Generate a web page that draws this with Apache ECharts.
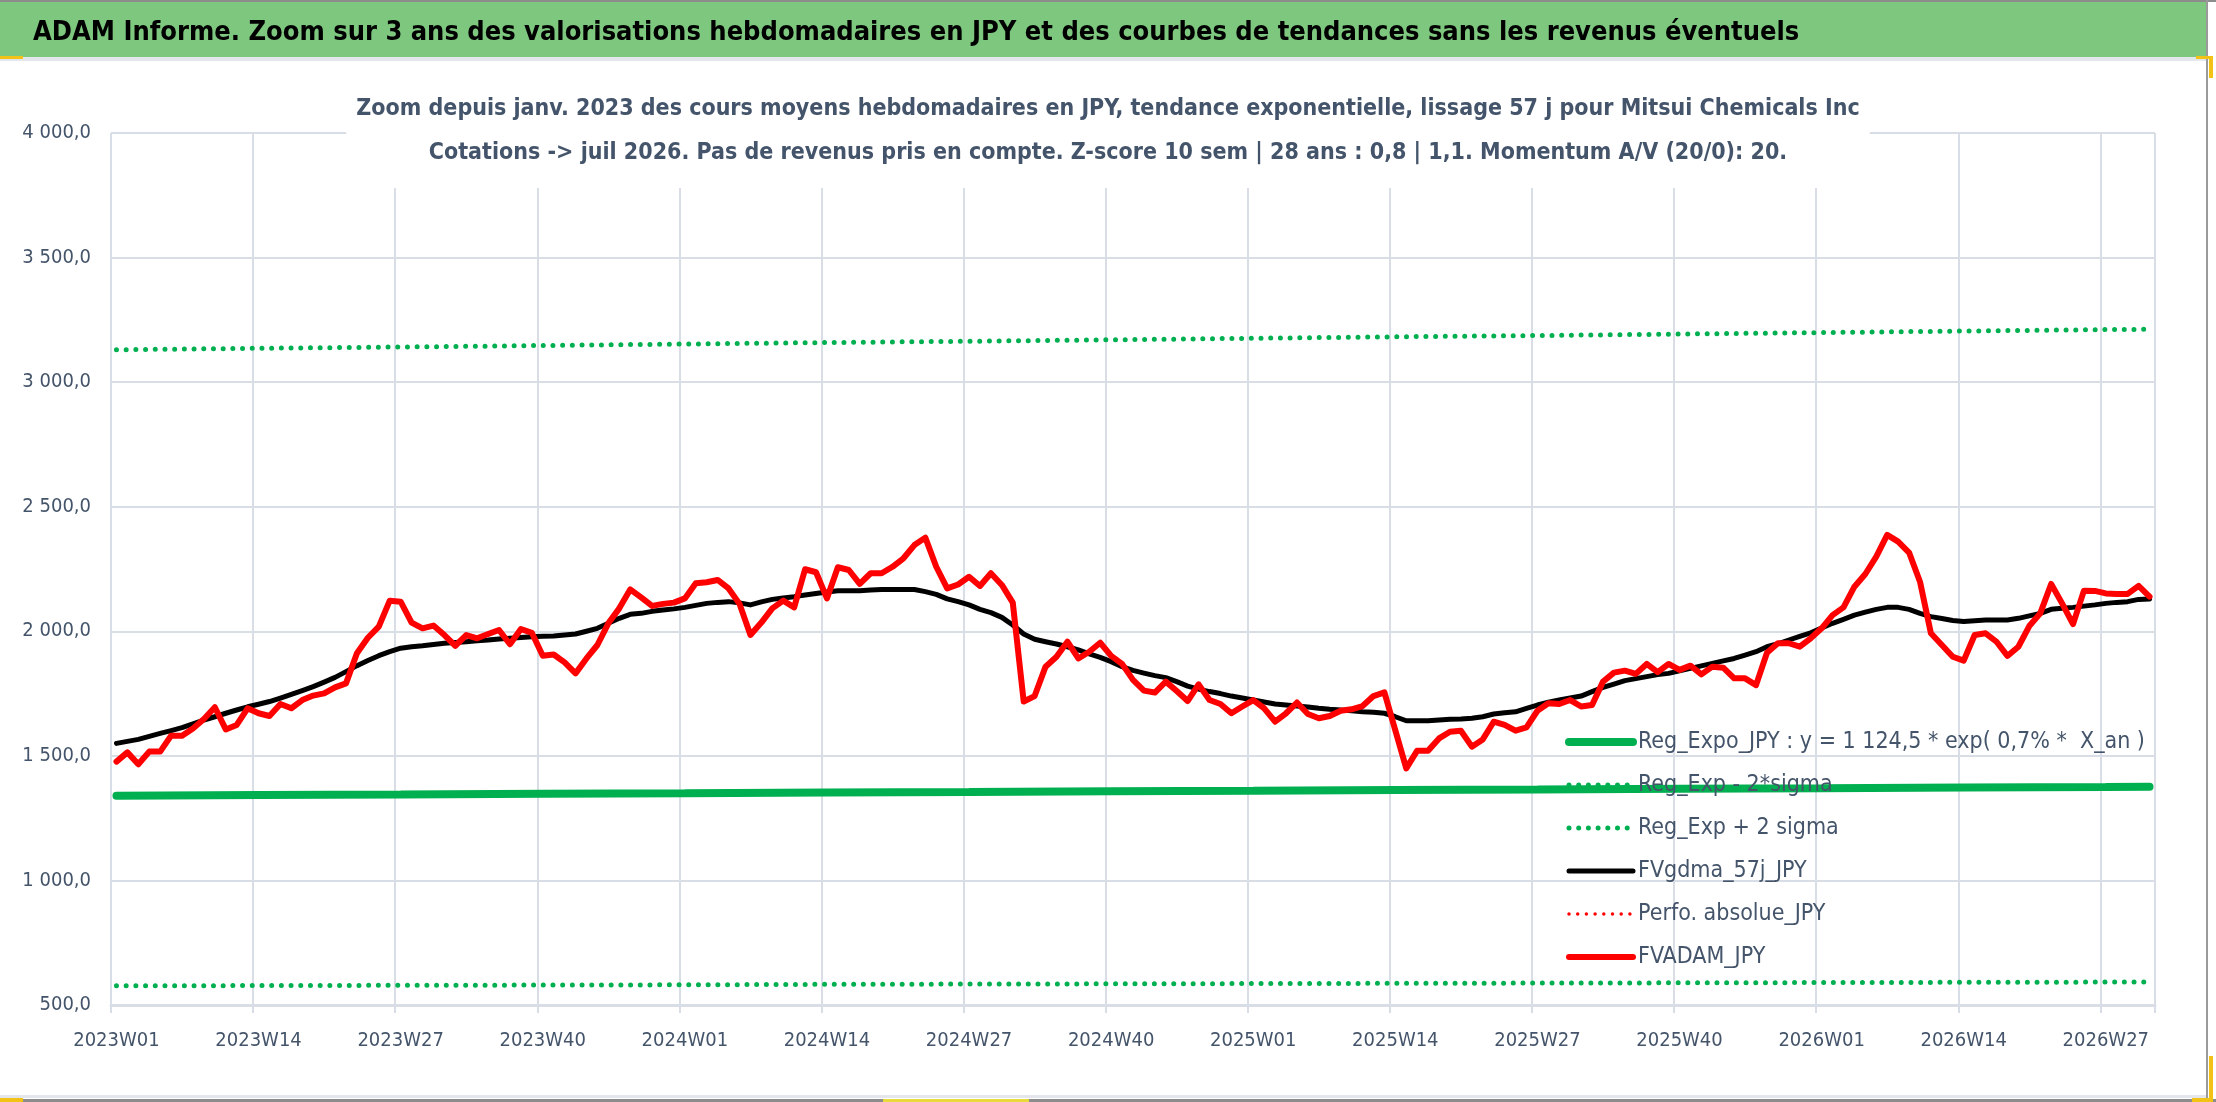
<!DOCTYPE html>
<html><head><meta charset="utf-8">
<script src="https://cdn.jsdelivr.net/npm/echarts@6/dist/echarts.min.js"></script>
<style>html,body{margin:0;padding:0;background:#fff}#c{width:2216px;height:1102px}</style>
</head><body><div id="c"></div>
<script>
// ---- data ----
const years = [2023, 2024, 2025, 2026];
const weeksPerYear = [52, 52, 52, 31];
const categories = [];
years.forEach((y, k) => { for (let w = 1; w <= weeksPerYear[k]; w++) categories.push(y + 'W' + (w < 10 ? '0' + w : w)); });

const fvadam = [
1477,1514,1466,1517,1517,1581,1581,1610,1648,1695,1606,1624,1691,1671,1660,1708,1691,1724,1742,1751,1775,1791,1912,1974,2019,2123,2119,2035,2012,2023,1985,1942,1985,1972,1989,2005,1948,2009,1994,1902,1907,1875,1831,1891,1945,2032,2092,2168,
2136,2102,2110,2115,2132,2193,2197,2206,2172,2110,1985,2035,2092,2123,2096,2249,2237,2132,2257,2246,2190,2233,2233,2259,2293,2346,2376,2259,2172,2188,2219,2182,2233,2186,2115,1718,1740,1858,1898,1958,1891,1918,1954,1901,1869,1805,1762,
1754,1798,1760,1720,1787,1724,1708,1671,1698,1724,1691,1637,1671,1714,1668,1651,1660,1681,1687,1700,1740,1755,1602,1450,1521,1521,1570,1597,1601,1537,1566,1637,1624,1601,1614,1681,1711,1708,1724,1698,1704,1798,1834,1842,1829,1869,1836,
1869,1845,1862,1827,1858,1854,1811,1811,1784,1914,1952,1952,1938,1972,2012,2065,2096,2179,2230,2300,2387,2360,2316,2199,1992,1945,1898,1882,1985,1992,1958,1901,1938,2021,2072,2190,2112,2029,2163,2162,2152,2150,2150,2182,2139
];
const fvgdma = [
1550,1558,1566,1578,1590,1601,1613,1628,1644,1657,1671,1684,1697,1707,1718,1732,1747,1762,1778,1796,1815,1838,1862,1883,1902,1918,1932,1938,1942,1947,1952,1955,1958,1962,1965,1969,1972,1975,1978,1980,1981,1985,1989,2000,2012,2032,2052,2068,
2072,2080,2085,2090,2096,2104,2112,2116,2119,2114,2106,2118,2128,2134,2139,2146,2152,2158,2163,2163,2163,2166,2168,2168,2168,2168,2159,2148,2130,2119,2106,2088,2075,2056,2025,1989,1968,1958,1949,1938,1925,1909,1895,1878,1858,1843,1832,
1822,1814,1798,1780,1768,1758,1750,1740,1732,1724,1716,1708,1704,1700,1696,1691,1687,1684,1681,1677,1675,1671,1657,1641,1641,1641,1644,1647,1648,1651,1657,1668,1673,1677,1691,1704,1715,1724,1732,1740,1758,1775,1788,1802,1810,1818,1826,
1831,1841,1851,1861,1871,1881,1891,1904,1918,1938,1950,1965,1980,1994,2013,2032,2048,2065,2077,2088,2096,2096,2088,2072,2059,2051,2043,2039,2042,2045,2045,2045,2052,2062,2072,2088,2092,2096,2101,2106,2112,2116,2119,2128,2130
];
// trend lines read at each 13-week label position (and last week)
const trendIdx   = [0, 13, 26, 39, 52, 65, 78, 91, 104, 117, 130, 143, 156, 169, 182, 186];
const regExpo    = [1340,1343,1345,1348,1350,1353,1355,1358,1360,1363,1365,1368,1370,1373,1375,1376];
const regMinus2s = [577,578,579,580,581,583,584,585,586,587,588,589,590,591,592,592];
const regPlus2s  = [3130,3136,3141,3147,3153,3159,3164,3170,3176,3182,3187,3193,3199,3205,3211,3212];
const perfoAbs   = [];
const yTicks = [500, 1000, 1500, 2000, 2500, 3000, 3500, 4000];

function sparse(vals) {
  const a = new Array(categories.length).fill(null);
  trendIdx.forEach((ix, k) => { a[ix] = vals[k]; });
  return a;
}
function fmt(v) {
  if (v >= 1000) { const t = Math.floor(v / 1000), r = String(v % 1000).padStart(3, '0'); return t + ' ' + r + ',0'; }
  return v + ',0';
}

const FONT = "'DejaVu Sans Condensed', 'Liberation Sans', sans-serif";
const TXT = '#44546A';
const GRID = '#D9DEE6';

const chart = echarts.init(document.getElementById('c'), null, { renderer: 'canvas' });
chart.setOption({
  animation: false,
  backgroundColor: '#fff',
  textStyle: { fontFamily: FONT },
  title: {
    text: 'Zoom depuis janv. 2023 des cours moyens hebdomadaires en JPY, tendance exponentielle, lissage 57 j pour Mitsui Chemicals Inc\nCotations -> juil 2026. Pas de revenus pris en compte. Z-score 10 sem | 28 ans : 0,8 | 1,1. Momentum A/V (20/0): 20.',
    left: 'center', top: 83,
    padding: [4, 10, 13, 10],
    backgroundColor: '#fff',
    textStyle: { fontFamily: FONT, fontSize: 23, fontWeight: 'bold', color: TXT, lineHeight: 44, align: 'center' }
  },
  grid: { left: 111, right: 61, top: 133, bottom: 97, containLabel: false },
  legend: {
    orient: 'vertical', left: 1565, top: 727, padding: 0,
    itemWidth: 64, itemHeight: 20, itemGap: 13,
    itemStyle: { opacity: 0 },
    lineStyle: { width: 'inherit', type: 'inherit', cap: 'inherit' },
    textStyle: { fontFamily: FONT, fontSize: 23, color: TXT, lineHeight: 30 },
    data: ['Reg_Expo_JPY : y = 1 124,5 * exp( 0,7% *  X_an )', 'Reg_Exp - 2*sigma', 'Reg_Exp + 2 sigma', 'FVgdma_57j_JPY', 'Perfo. absolue_JPY', 'FVADAM_JPY']
  },
  xAxis: {
    type: 'category', data: categories, boundaryGap: true,
    axisLine: { show: true, lineStyle: { color: GRID, width: 3 } },
    axisTick: { show: true, interval: 12, length: 8, lineStyle: { color: GRID, width: 2 } },
    splitLine: { show: true, interval: 12, lineStyle: { color: GRID, width: 2 } },
    axisLabel: { interval: 12, margin: 26, fontFamily: FONT, fontSize: 20, color: TXT }
  },
  yAxis: {
    type: 'value', min: 500, max: 4000, interval: 500,
    axisLine: { show: false }, axisTick: { show: false },
    splitLine: { show: true, lineStyle: { color: GRID, width: 2 } },
    axisLabel: { margin: 20, fontFamily: FONT, fontSize: 20, color: TXT, formatter: v => yTicks.indexOf(v) >= 0 ? fmt(v) : '' }
  },
  series: [
    { name: 'Reg_Expo_JPY : y = 1 124,5 * exp( 0,7% *  X_an )', type: 'line', data: sparse(regExpo), connectNulls: true, symbol: 'none',
      lineStyle: { color: '#00B050', width: 8, cap: 'round' }, itemStyle: { color: '#00B050' } },
    { name: 'Reg_Exp - 2*sigma', type: 'line', data: sparse(regMinus2s), connectNulls: true, symbol: 'none',
      lineStyle: { color: '#00B050', width: 5, type: [0, 9.7], cap: 'round' }, itemStyle: { color: '#00B050' } },
    { name: 'Reg_Exp + 2 sigma', type: 'line', data: sparse(regPlus2s), connectNulls: true, symbol: 'none',
      lineStyle: { color: '#00B050', width: 5, type: [0, 9.7], cap: 'round' }, itemStyle: { color: '#00B050' } },
    { name: 'FVgdma_57j_JPY', type: 'line', data: fvgdma, symbol: 'none',
      lineStyle: { color: '#000000', width: 5, cap: 'round', join: 'round' }, itemStyle: { color: '#000' } },
    { name: 'Perfo. absolue_JPY', type: 'line', data: perfoAbs, symbol: 'none',
      lineStyle: { color: '#FF0000', width: 3.5, type: [0, 8.7], cap: 'round' }, itemStyle: { color: '#FF0000' } },
    { name: 'FVADAM_JPY', type: 'line', data: fvadam, symbol: 'none',
      lineStyle: { color: '#FF0000', width: 6, cap: 'round', join: 'round' }, itemStyle: { color: '#FF0000' } }
  ],
  graphic: [
    { type: 'rect', shape: { x: 0, y: 0, width: 2207, height: 57 }, style: { fill: '#7DC87E' }, z: 10 },
    { type: 'rect', shape: { x: 0, y: 0, width: 2216, height: 2 }, style: { fill: '#8C8C8C' }, z: 11 },
    { type: 'rect', shape: { x: 0, y: 57, width: 2207, height: 4 }, style: { fill: '#E3E6EA' }, z: 11 },
    { type: 'rect', shape: { x: 0, y: 1095, width: 2207, height: 3 }, style: { fill: '#E3E6EA' }, z: 11 },
    { type: 'rect', shape: { x: 0, y: 1099, width: 2216, height: 3 }, style: { fill: '#8C8C8C' }, z: 11 },
    { type: 'rect', shape: { x: 2206, y: 0, width: 2, height: 1102 }, style: { fill: '#9A9A9A' }, z: 11 },
    { type: 'rect', shape: { x: 0, y: 56, width: 23, height: 3 }, style: { fill: '#F2C316' }, z: 12 },
    { type: 'rect', shape: { x: 2196, y: 56, width: 17, height: 3 }, style: { fill: '#F2C316' }, z: 12 },
    { type: 'rect', shape: { x: 2209, y: 56, width: 4, height: 22 }, style: { fill: '#F2C316' }, z: 12 },
    { type: 'rect', shape: { x: 2209, y: 1056, width: 4, height: 46 }, style: { fill: '#F2C316' }, z: 12 },
    { type: 'rect', shape: { x: 2192, y: 1098, width: 21, height: 4 }, style: { fill: '#F2C316' }, z: 12 },
    { type: 'rect', shape: { x: 0, y: 1098, width: 23, height: 4 }, style: { fill: '#F2C316' }, z: 12 },
    { type: 'rect', shape: { x: 883, y: 1099, width: 146, height: 3 }, style: { fill: '#E8DA3A' }, z: 12 },
    { type: 'text', x: 33, y: 33, z: 12,
      style: { text: 'ADAM Informe. Zoom sur 3 ans des valorisations hebdomadaires en JPY et des courbes de tendances sans les revenus éventuels',
        fontFamily: FONT, fontSize: 27, fontWeight: 'bold', fill: '#000', textVerticalAlign: 'middle', textAlign: 'left' } }
  ]
});
</script></body></html>
